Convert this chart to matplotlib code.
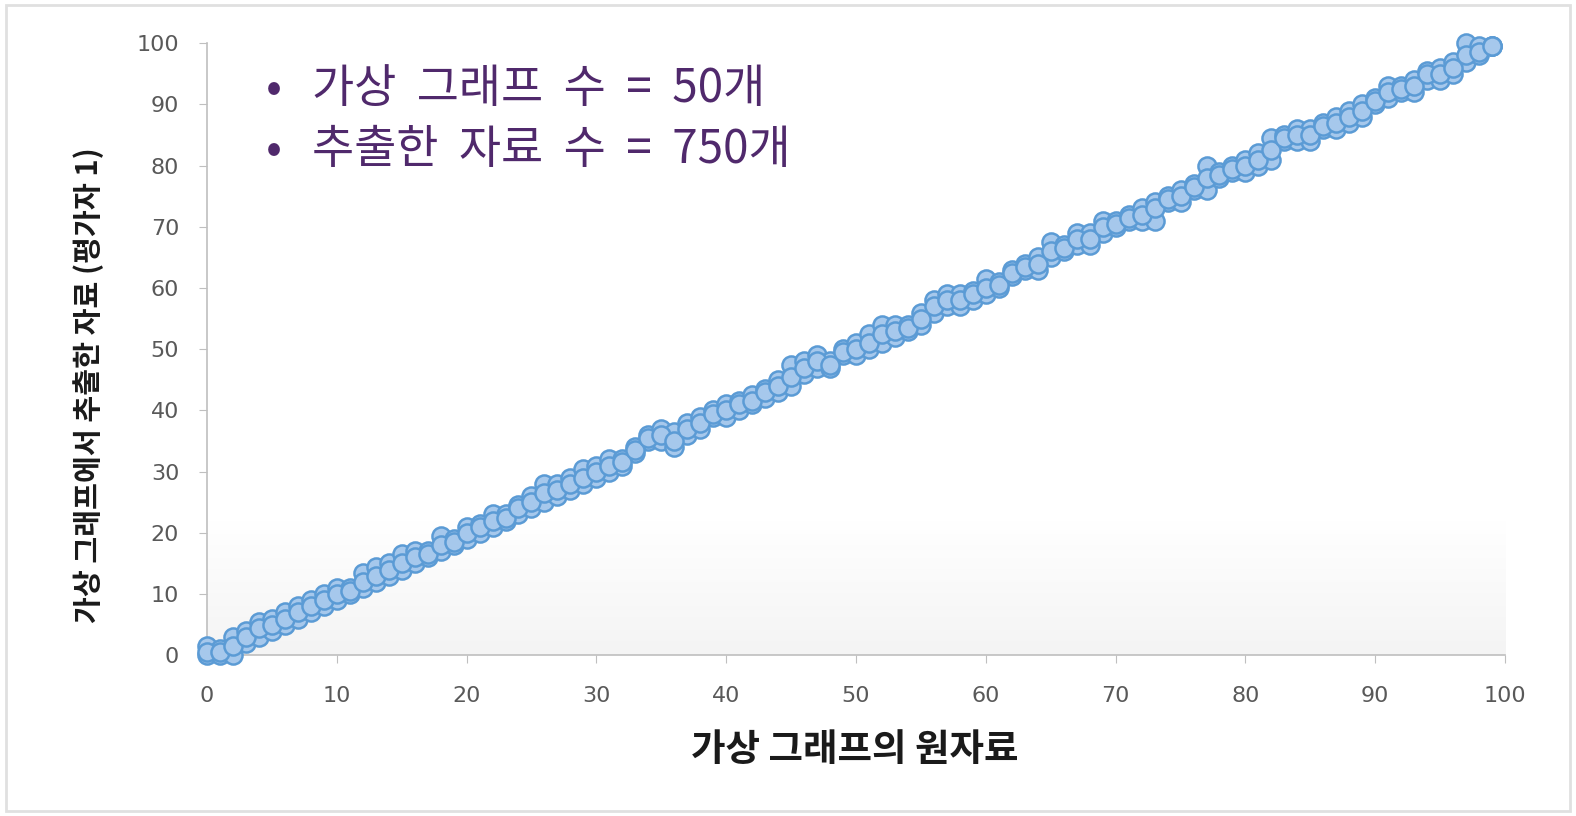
import numpy as np
import matplotlib
matplotlib.use('Agg')
import matplotlib.pyplot as plt
from matplotlib.patches import Rectangle

plt.rcParams['font.family'] = ['Noto Sans CJK KR', 'DejaVu Sans']

# 원자료 (x) 와 추출한 자료 (y) : x 값마다 읽어낸 아래/가운데/위 값
x_raw = list(range(100))
y_low = [0, 0, 0, 2, 3, 4, 5, 6, 7, 8,
         9, 10, 11, 12, 13, 14, 15, 16, 17, 18,
         19, 20, 21, 22, 23, 24, 25, 26, 27, 28,
         29, 30, 31, 33, 35, 35, 34, 36, 37, 39,
         39, 40, 41, 42, 43, 44, 46, 47, 47, 49,
         49, 50, 51, 52, 53, 54, 56, 57, 57, 58,
         59, 60, 62, 63, 63, 65, 66, 67, 67, 69,
         70, 71, 71, 71, 74, 74, 76, 76, 78, 79,
         79, 80, 81, 84, 84, 84, 86, 86, 87, 88,
         90, 91, 92, 92, 94, 94, 95, 97, 98, 99.5]
y_mid = [0.5, 0.5, 1.5, 3, 4.5, 5, 6, 7, 8, 9,
         10, 10.5, 12, 13, 14, 15, 16, 16.5, 18, 18.5,
         20, 21, 22, 22.5, 24, 25, 26.5, 27, 28, 29,
         30, 31, 31.5, 33.5, 35.5, 36, 35, 37, 38, 39.5,
         40, 41, 41.5, 43, 44, 45.5, 47, 48, 47.5, 49.5,
         50, 51, 52.5, 53, 53.5, 55, 57, 58, 58, 59,
         60, 60.5, 62.5, 63.5, 64, 66, 66.5, 68, 68, 70,
         70.5, 71.5, 72, 73, 74.5, 75, 76.5, 78, 78.5, 79.5,
         80, 81, 82.5, 84.5, 85, 85, 86.5, 87, 88, 89,
         90.5, 92, 92.5, 93, 95, 95, 96, 98, 98.5, 99.5]
y_high = [1.5, 1, 3, 4, 5.5, 6, 7, 8, 9, 10,
          11, 11, 13.5, 14.5, 15, 16.5, 17, 17, 19.5, 19,
          21, 21.5, 23, 23, 24.5, 26, 28, 28, 29, 30.5,
          31, 32, 32, 34, 36, 37, 36.5, 38, 39, 40,
          41, 41.5, 42.5, 43.5, 45, 47.5, 48, 49, 48, 50,
          51, 52.5, 54, 54, 54, 56, 58, 59, 59, 59.5,
          61.5, 61, 63, 64, 65, 67.5, 67, 69, 69, 71,
          71, 72, 73, 74, 75, 76, 77, 80, 79, 80,
          81, 82, 84.5, 85, 86, 86, 87, 88, 89, 90,
          91, 93, 93, 94, 95.5, 96, 97, 100, 99.5, 99.5]

x_ticks = [0, 10, 20, 30, 40, 50, 60, 70, 80, 90, 100]
y_ticks = [0, 10, 20, 30, 40, 50, 60, 70, 80, 90, 100]
notes = ['가상  그래프  수  =  50개', '추출한  자료  수  =  750개']

fig = plt.figure(figsize=(15.76, 8.16), dpi=100)
fig.patches.append(Rectangle((0.004, 0.006), 0.992, 0.988, transform=fig.transFigure,
                             fill=False, edgecolor='#e0e0e0', linewidth=2))
ax = fig.add_axes([0.1313, 0.197, 0.8237, 0.750])

# 아래쪽 옅은 회색 그라데이션
ax.imshow(np.linspace(0, 1, 50).reshape(-1, 1), extent=[0, 100, 0, 22], aspect='auto',
          cmap=matplotlib.colors.LinearSegmentedColormap.from_list('g', ['#f4f4f4', '#ffffff']),
          origin='lower', zorder=0)

for ys in (y_low, y_high, y_mid):
    ax.scatter(x_raw, ys, s=170, facecolor='#a6c8ec', edgecolor='#5b9bd5',
               linewidth=1.8, zorder=3, clip_on=False)

ax.set_xlim(0, 100)
ax.set_ylim(0, 100)
ax.set_xticks(x_ticks)
ax.set_yticks(y_ticks)
for sp in ['top', 'right']:
    ax.spines[sp].set_visible(False)
for sp in ['left', 'bottom']:
    ax.spines[sp].set_color('#bfbfbf')
    ax.spines[sp].set_linewidth(1.2)
ax.tick_params(colors='#bfbfbf', length=6, labelcolor='#595959', labelsize=16)
ax.tick_params(axis='x', pad=16)
ax.tick_params(axis='y', pad=14)
for lab in ax.get_xticklabels() + ax.get_yticklabels():
    lab.set_family(['DejaVu Sans'])

fig.text(0.5425, 0.082, '가상 그래프의 원자료', fontsize=27, fontweight='bold',
         color='#1a1a1a', ha='center', va='center')
fig.text(0.056, 0.528, '가상 그래프에서 추출한 자료 (평가자 1)', fontsize=21, fontweight='bold',
         color='#1a1a1a', ha='center', va='center', rotation=90)

for i, t in enumerate(notes):
    yy = 0.891 - i * 0.074
    fig.text(0.174, yy, '•', fontsize=34, color='#50296c', va='center', ha='center')
    fig.text(0.198, yy, t, fontsize=33, color='#50296c', va='center')

fig.savefig('out.png', dpi=100)
